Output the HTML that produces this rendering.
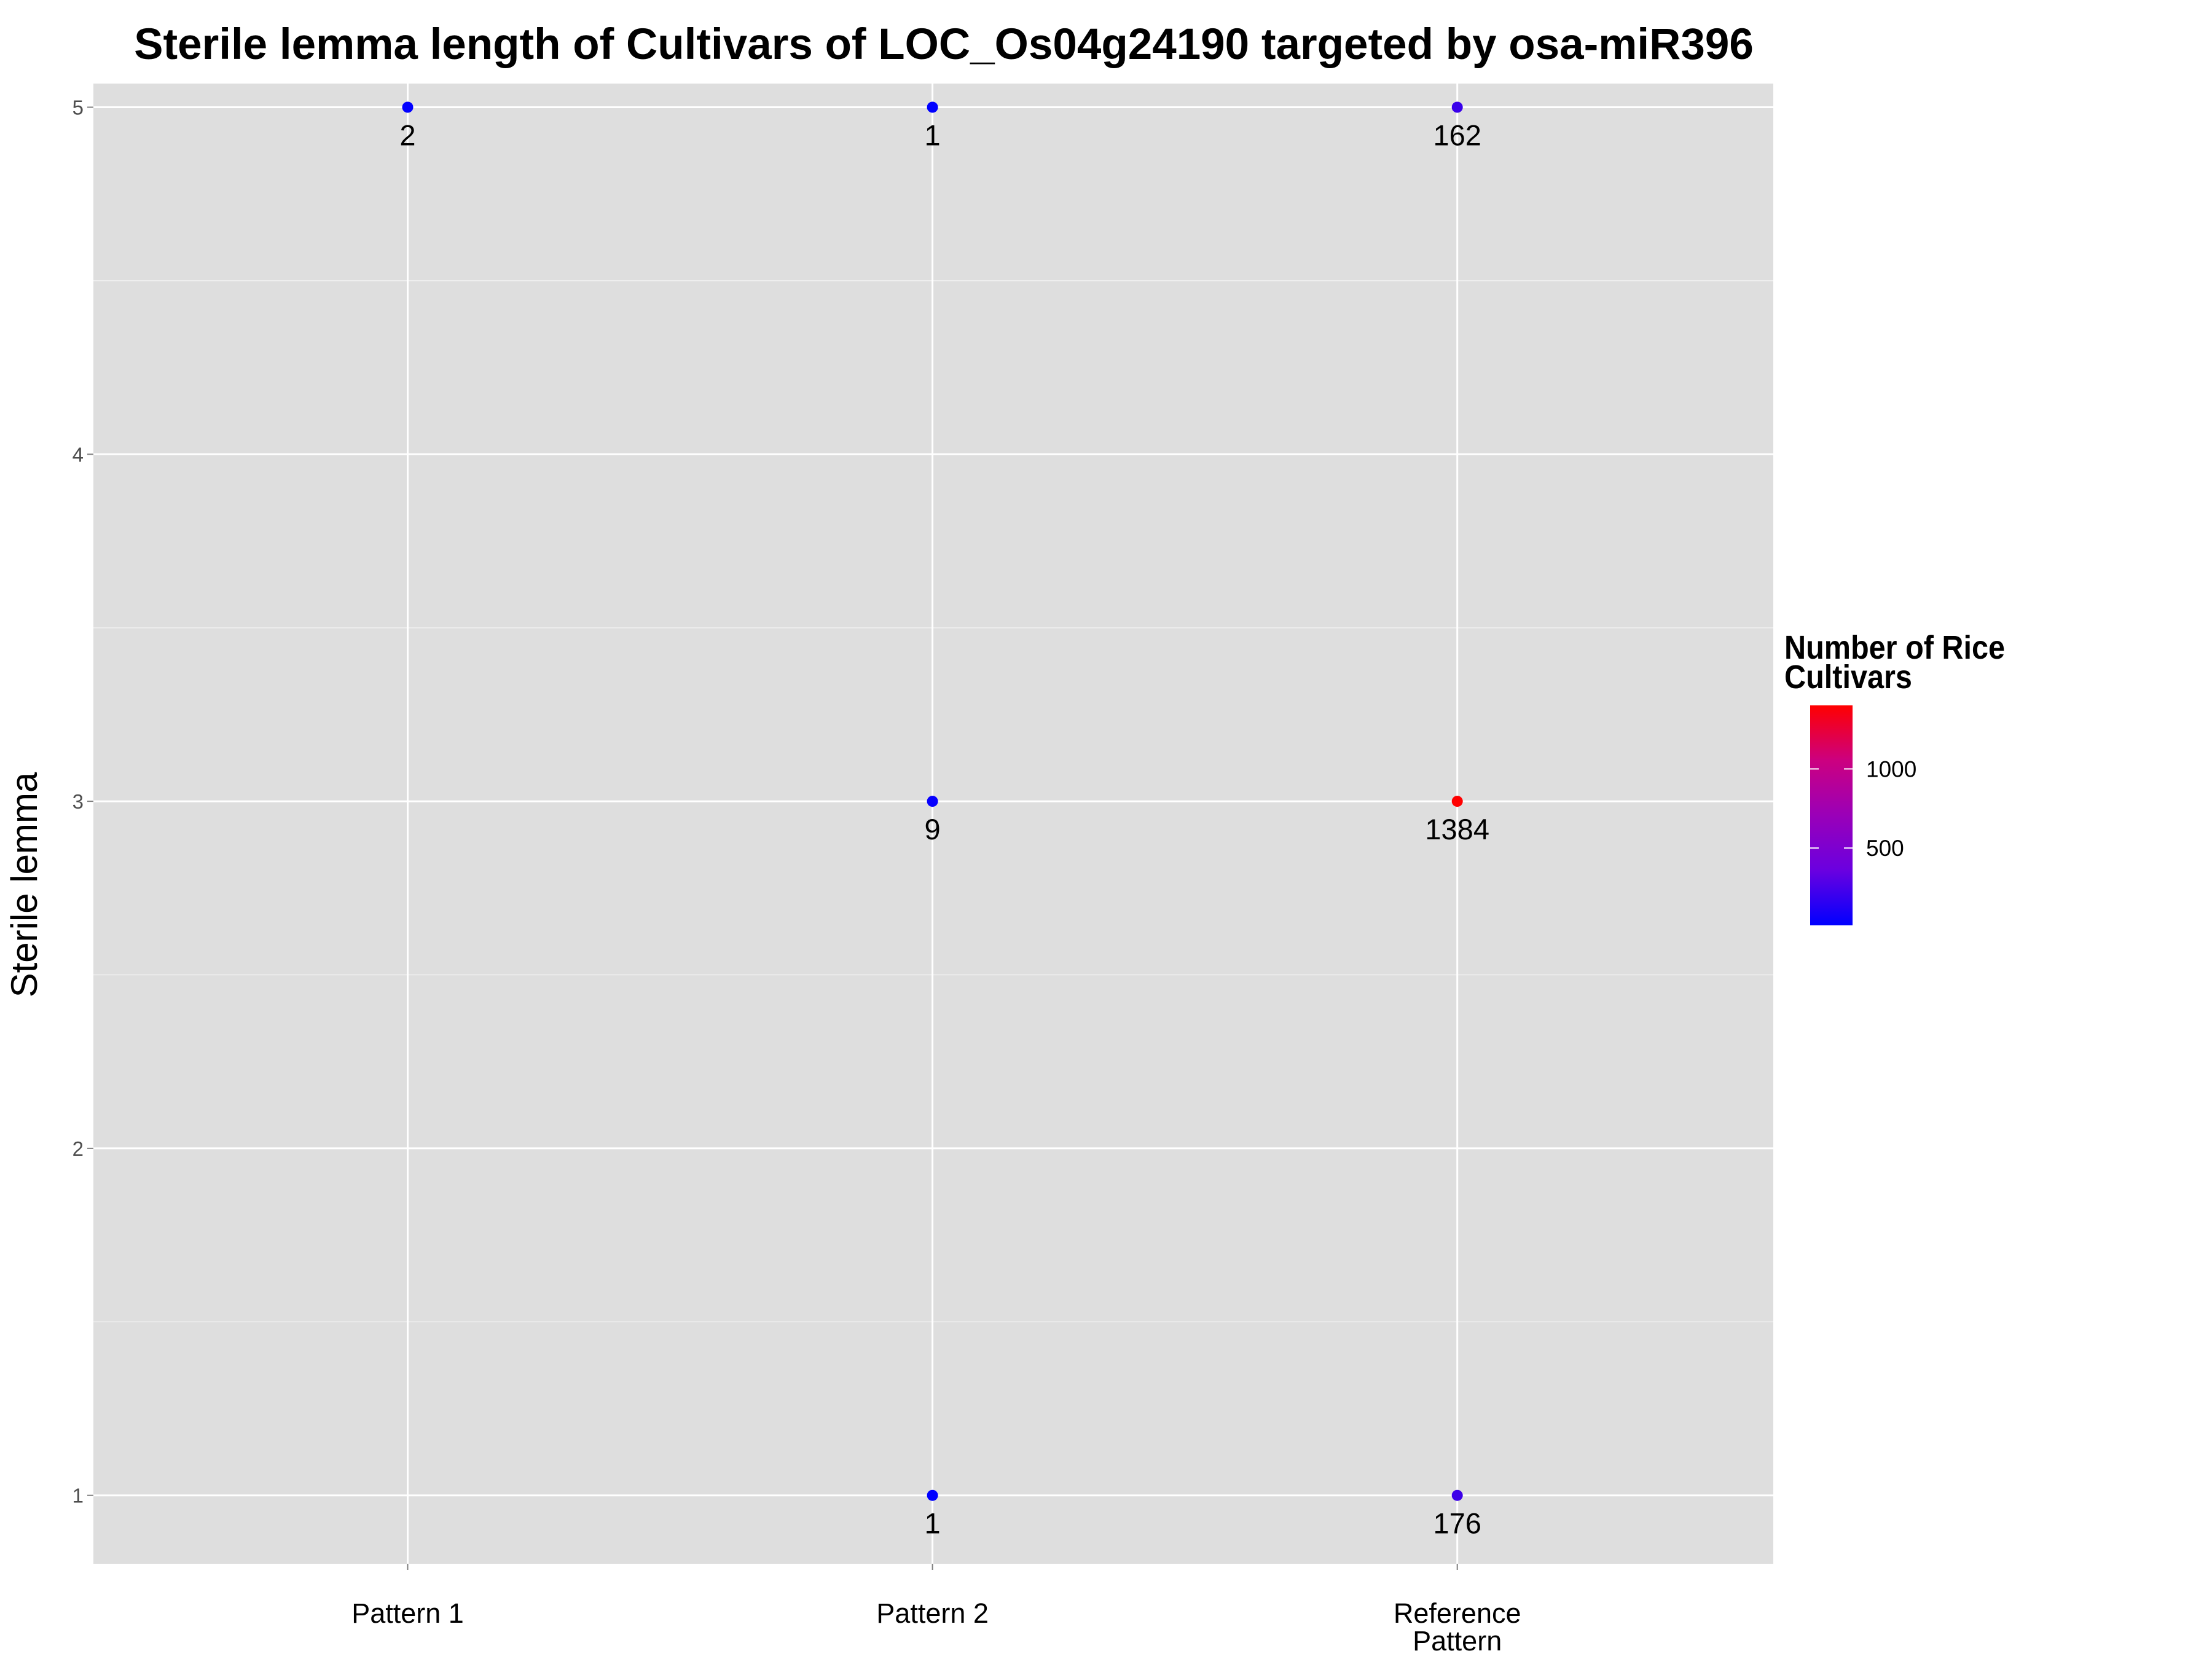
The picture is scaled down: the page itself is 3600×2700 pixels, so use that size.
<!DOCTYPE html>
<html><head><meta charset="utf-8"><style>
html,body{margin:0;padding:0;background:#fff;}
svg{display:block;font-family:"Liberation Sans",sans-serif;}
</style></head><body>
<svg id="chart" width="3600" height="2700" xmlns="http://www.w3.org/2000/svg">
<defs>
<linearGradient id="cbar" x1="0" y1="1" x2="0" y2="0">
<stop offset="0" stop-color="#0000ff"/><stop offset="0.25" stop-color="#6a00e0"/><stop offset="0.5" stop-color="#9a00b8"/><stop offset="0.75" stop-color="#cc0080"/><stop offset="1" stop-color="#ff0000"/>
</linearGradient>
</defs>
<text x="1536" y="96" text-anchor="middle" font-size="71" font-weight="bold">Sterile lemma length of Cultivars of LOC_Os04g24190 targeted by osa-miR396</text>
<rect x="152" y="136" width="2734" height="2409" fill="#dedede"/>
<g id="grid"></g>
<g id="marks"></g>
<g id="axes"></g>
<text transform="translate(60,1440) rotate(-90)" text-anchor="middle" font-size="60">Sterile lemma</text>
<g>
<text x="2904" y="1072" font-size="54" font-weight="bold" transform="translate(2904,0) scale(0.9,1) translate(-2904,0)">Number of Rice</text>
<text x="2904" y="1120" font-size="54" font-weight="bold" transform="translate(2904,0) scale(0.9,1) translate(-2904,0)">Cultivars</text>
<rect x="2946" y="1148" width="69" height="358" fill="url(#cbar)"/>
<g id="legendticks"></g>
</g>
</svg>
<script>
const categories = ["Pattern 1","Pattern 2","Reference Pattern"];
const pointCat = [0,1,1,1,2,2,2];
const pointY = [5,5,3,1,5,3,1];
const pointCount = [2,1,9,1,162,1384,176];
const yTicks = [1,2,3,4,5];
const legendTicks = [500,1000];

const NS="http://www.w3.org/2000/svg";
const px0=152, px1=2886, py0=136, py1=2545;
function xS(i){return 663.5 + i*854.1;}
function yS(v){return 2433.7 - (v-1)*564.8;}
const cMin=1, cMax=1384;
function color(v){const t=Math.max(0,Math.min(1,(v-cMin)/(cMax-cMin)));
  return `rgb(${Math.round(255*Math.pow(t,0.7))},0,${Math.round(255*Math.pow(1-t,0.7))})`;}
function lgY(v){return 1509 - v*0.2576;}
function mk(tag,attrs,parent){const e=document.createElementNS(NS,tag);for(const k in attrs)e.setAttribute(k,attrs[k]);parent.appendChild(e);return e;}
const grid=document.getElementById('grid'), marks=document.getElementById('marks'), axes=document.getElementById('axes'), lt=document.getElementById('legendticks');
for(let i=0;i<yTicks.length-1;i++){
  const l=mk('line',{x1:px0,x2:px1,y1:yS(yTicks[i]+0.5),y2:yS(yTicks[i]+0.5),stroke:'#f0f0f0','stroke-width':1.5},grid);
  
  
}
yTicks.forEach(v=>{
  const l=mk('line',{x1:px0,x2:px1,y1:yS(v),y2:yS(v),stroke:'#fff','stroke-width':3},grid);
  
  
  const tk=mk('line',{x1:px0-10,x2:px0,y1:yS(v),y2:yS(v),stroke:'#7f7f7f','stroke-width':2},axes);
  
  
  const t=mk('text',{x:px0-16,y:yS(v)+12,'text-anchor':'end','font-size':33,fill:'#4d4d4d'},axes);
  t.textContent=v;
  
  
});
categories.forEach((c,i)=>{
  const l=mk('line',{x1:xS(i),x2:xS(i),y1:py0,y2:py1,stroke:'#fff','stroke-width':3},grid);
  
  
  const tk=mk('line',{x1:xS(i),x2:xS(i),y1:py1,y2:py1+10,stroke:'#7f7f7f','stroke-width':2},axes);
  
  
  const parts=c==="Reference Pattern"?["Reference","Pattern"]:[c];
  parts.forEach((p,j)=>{
    const t=mk('text',{x:xS(i),y:2641+j*45,'text-anchor':'middle','font-size':45},axes);
    t.textContent=p;
    
    
  });
});
pointCount.forEach((n,k)=>{
  const cx=xS(pointCat[k]), cy=yS(pointY[k]);
  const p=mk('circle',{cx:cx,cy:cy,r:9,fill:color(n)},marks);
  
  
  const t=mk('text',{x:cx,y:cy+62,'text-anchor':'middle','font-size':47},marks);
  t.textContent=n;
  
  
});
legendTicks.forEach(v=>{
  const y=lgY(v);
  mk('line',{x1:2946,x2:2960,y1:y,y2:y,stroke:'#fff','stroke-width':2},lt);
  mk('line',{x1:3001,x2:3015,y1:y,y2:y,stroke:'#fff','stroke-width':2},lt);
  const t=mk('text',{x:3037,y:y+13,'font-size':37},lt);
  t.textContent=v;
  
  
});
</script>
</body></html>
